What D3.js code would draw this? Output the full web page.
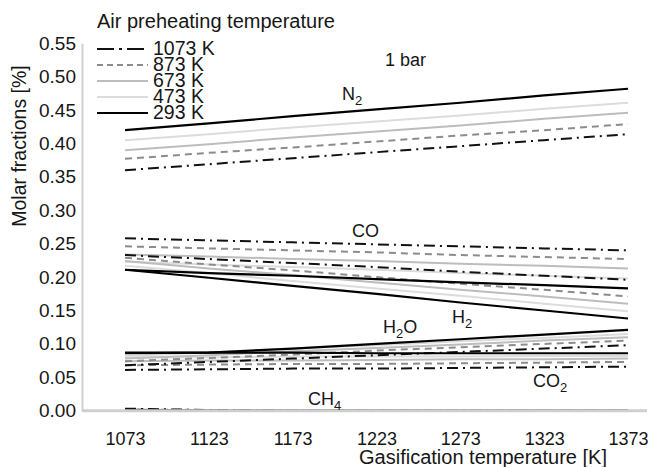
<!DOCTYPE html>
<html>
<head>
<meta charset="utf-8">
<script src="https://cdn.jsdelivr.net/npm/d3@7/dist/d3.min.js"></script>
<style>
  html, body { margin: 0; padding: 0; background: #fff; }
  svg { display: block; font-family: "Liberation Sans", Arial, Helvetica, sans-serif; }
</style>
</head>
<body>
<svg id="chart" width="655" height="467"></svg>
<script>
// Gasification temperatures [K] (x positions of the computed points)
const gasTemps = [1073, 1123, 1173, 1223, 1273, 1323, 1373];
const xTicks = [1073, 1123, 1173, 1223, 1273, 1323, 1373];
const yTicks = [0, 0.05, 0.10, 0.15, 0.20, 0.25, 0.30, 0.35, 0.40, 0.45, 0.50, 0.55];

// Air preheating temperatures, legend order
const preheat = ["1073 K", "873 K", "673 K", "473 K", "293 K"];

// Molar fractions per species; rows follow the preheat order above
const N2 = [
  [0.360, 0.369, 0.378, 0.387, 0.396, 0.405, 0.414],
  [0.377, 0.386, 0.394, 0.403, 0.412, 0.420, 0.429],
  [0.390, 0.399, 0.409, 0.418, 0.427, 0.437, 0.446],
  [0.405, 0.414, 0.424, 0.433, 0.442, 0.452, 0.461],
  [0.420, 0.430, 0.441, 0.451, 0.461, 0.472, 0.482]
];
const CO = [
  [0.258, 0.255, 0.252, 0.249, 0.246, 0.243, 0.240],
  [0.246, 0.243, 0.240, 0.237, 0.233, 0.230, 0.227],
  [0.234, 0.231, 0.227, 0.224, 0.220, 0.217, 0.213],
  [0.223, 0.219, 0.215, 0.211, 0.206, 0.202, 0.198],
  [0.211, 0.206, 0.202, 0.197, 0.192, 0.188, 0.183]
];
const H2 = [
  [0.233, 0.227, 0.221, 0.215, 0.208, 0.202, 0.196],
  [0.229, 0.219, 0.210, 0.200, 0.190, 0.181, 0.171],
  [0.224, 0.213, 0.203, 0.192, 0.181, 0.171, 0.160],
  [0.217, 0.206, 0.194, 0.183, 0.172, 0.160, 0.149],
  [0.211, 0.199, 0.187, 0.175, 0.162, 0.150, 0.138]
];
const H2O = [
  [0.068, 0.073, 0.078, 0.083, 0.088, 0.093, 0.098],
  [0.074, 0.079, 0.084, 0.090, 0.095, 0.100, 0.105],
  [0.078, 0.083, 0.089, 0.094, 0.099, 0.105, 0.110],
  [0.082, 0.087, 0.093, 0.098, 0.104, 0.109, 0.115],
  [0.086, 0.087, 0.093, 0.100, 0.107, 0.114, 0.121]
];
const CO2 = [
  [0.061, 0.062, 0.063, 0.063, 0.064, 0.065, 0.066],
  [0.068, 0.069, 0.070, 0.070, 0.071, 0.072, 0.073],
  [0.074, 0.075, 0.075, 0.076, 0.077, 0.077, 0.078],
  [0.080, 0.080, 0.081, 0.081, 0.081, 0.082, 0.082],
  [0.087, 0.087, 0.087, 0.086, 0.086, 0.086, 0.086]
];
const CH4 = [
  [0.003, 0.001, 0.000, 0.000, 0.000, 0.000, 0.000],
  [0.002, 0.001, 0.000, 0.000, 0.000, 0.000, 0.000],
  [0.002, 0.000, 0.000, 0.000, 0.000, 0.000, 0.000],
  [0.001, 0.000, 0.000, 0.000, 0.000, 0.000, 0.000],
  [0.001, 0.000, 0.000, 0.000, 0.000, 0.000, 0.000]
];
const species = [N2, CO, H2, H2O, CO2, CH4];

// Line style for each preheating temperature (legend samples use longer dashes)
const lineStyle = {
  "1073 K": { stroke: "#111", width: 2, dash: "11,5,2,5", legendDash: "17,5,3,5" },
  "873 K":  { stroke: "#8c8c8c", width: 2, dash: "7,5", legendDash: "6,4" },
  "673 K":  { stroke: "#bdbdbd", width: 2, dash: null, legendDash: null },
  "473 K":  { stroke: "#dcdcdc", width: 2, dash: null, legendDash: null },
  "293 K":  { stroke: "#000", width: 2.2, dash: null, legendDash: null }
};

const svg = d3.select("#chart");
const x = d3.scaleLinear().domain([1073, 1373]).range([125, 628]);
const y = d3.scaleLinear().domain([0, 0.55]).range([410.7, 43.3]);
const axisGray = "#cfcfcf";
const textColor = "#161616";

// Y axis
const yAxis = svg.append("g")
  .attr("transform", `translate(${x.range()[0] - 43},0)`)
  .call(d3.axisLeft(y).tickValues(yTicks).tickFormat(d3.format(".2f")).tickSize(0).tickPadding(6));
yAxis.select(".domain").attr("stroke", axisGray).attr("stroke-width", 2);
yAxis.selectAll("text").attr("font-size", 19).attr("fill", textColor)
  .attr("font-family", "Liberation Sans, Arial, sans-serif");

// X axis labels
const xAxis = svg.append("g")
  .attr("transform", `translate(0,${y(0)})`)
  .call(d3.axisBottom(x).tickValues(xTicks).tickFormat(d3.format("d")).tickSize(0).tickPadding(22));
xAxis.select(".domain").remove();
xAxis.selectAll("text").attr("font-size", 18).attr("fill", textColor)
  .attr("font-family", "Liberation Sans, Arial, sans-serif");

// Axis titles
svg.append("text")
  .attr("x", 483).attr("y", 464)
  .attr("text-anchor", "middle").attr("font-size", 20).attr("fill", textColor)
  .text("Gasification temperature [K]");

svg.append("text")
  .attr("transform", "translate(26,146) rotate(-90)")
  .attr("text-anchor", "middle").attr("font-size", 19.5).attr("fill", textColor)
  .text("Molar fractions [%]");

// Curves, light styles drawn first so the black ones stay on top
const line = d3.line().x((d, i) => x(gasTemps[i])).y(d => y(d));
const drawOrder = ["473 K", "673 K", "873 K", "1073 K", "293 K"];
const curves = svg.append("g").attr("fill", "none");
drawOrder.forEach(p => {
  const k = preheat.indexOf(p);
  const st = lineStyle[p];
  species.forEach(sp => {
    curves.append("path")
      .datum(sp[k])
      .attr("d", line)
      .attr("stroke", st.stroke)
      .attr("stroke-width", st.width)
      .attr("stroke-dasharray", st.dash);
  });
});

// Zero baseline, drawn over the near-zero CH4 curves
svg.append("line")
  .attr("x1", x.range()[0] - 43).attr("x2", x.range()[1] + 19)
  .attr("y1", y(0)).attr("y2", y(0))
  .attr("stroke", axisGray).attr("stroke-width", 3);

// Species labels
function speciesLabel(px, py, main, sub, tail) {
  const t = svg.append("text").attr("x", px).attr("y", py)
    .attr("font-size", 18).attr("fill", textColor);
  t.append("tspan").text(main);
  if (sub) t.append("tspan").attr("dy", 5).attr("font-size", 13).text(sub);
  if (tail) t.append("tspan").attr("dy", -5).text(tail);
}
speciesLabel(342, 100, "N", "2");
speciesLabel(352, 237, "CO");
speciesLabel(452, 323, "H", "2");
speciesLabel(383, 333, "H", "2", "O");
speciesLabel(533, 387, "CO", "2");
speciesLabel(308, 405, "CH", "4");

svg.append("text").attr("x", 385).attr("y", 66)
  .attr("font-size", 18).attr("fill", textColor).text("1 bar");

// Legend
svg.append("text").attr("x", 97).attr("y", 28)
  .attr("font-size", 20).attr("fill", textColor).text("Air  preheating temperature");

const legendRowY = d3.scaleLinear().domain([0, 4]).range([49, 113]);
const legend = svg.append("g");
preheat.forEach((p, i) => {
  const st = lineStyle[p];
  const ly = legendRowY(i);
  legend.append("line")
    .attr("x1", 97).attr("x2", 148).attr("y1", ly).attr("y2", ly)
    .attr("stroke", st.stroke).attr("stroke-width", st.width)
    .attr("stroke-dasharray", st.legendDash);
  legend.append("text")
    .attr("x", 153).attr("y", ly + 6)
    .attr("font-size", 19.5).attr("fill", textColor).text(p);
});
</script>
</body>
</html>
